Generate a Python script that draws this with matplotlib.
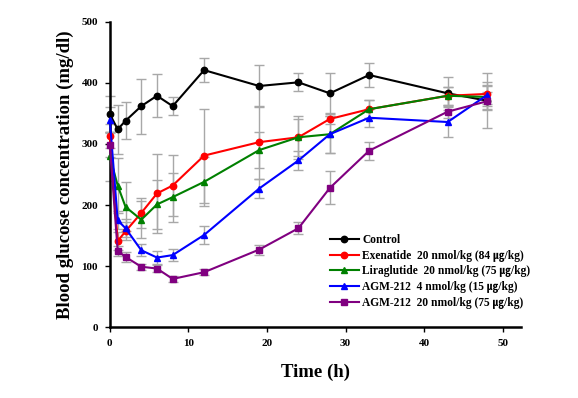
import matplotlib
matplotlib.use("Agg")
import matplotlib.pyplot as plt

plt.rcParams['font.family'] = ['Liberation Serif', 'Noto Sans CJK KR', 'DejaVu Sans']
plt.rcParams['font.weight'] = 'bold'

time_h = [0, 1, 2, 4, 6, 8, 12, 19, 24, 28, 33, 43, 48]
labels = ["Control",
          "Exenatide  20 nmol/kg (84 ㎍/kg)",
          "Liraglutide  20 nmol/kg (75 ㎍/kg)",
          "AGM-212  4 nmol/kg (15 ㎍/kg)",
          "AGM-212  20 nmol/kg (75 ㎍/kg)"]

control = [349, 324, 338, 362, 379, 362, 421, 395, 401, 383, 413, 383, 371]
exenatide = [313, 141, 157, 187, 219, 232, 281, 303, 311, 341, 357, 379, 382]
liraglutide = [280, 232, 197, 176, 201, 213, 238, 290, 311, 316, 357, 379, 377]
agm_4 = [340, 175, 162, 126, 114, 118, 151, 227, 273, 316, 343, 336, 380]
agm_20 = [298, 125, 115, 99, 96, 79, 90, 127, 162, 228, 289, 353, 370]

control_err = [30, 40, 30, 45, 35, 15, 20, 35, 15, 33, 20, 27, 45]
exenatide_err = [20, 15, 15, 25, 64, 50, 77, 60, 35, 8, 15, 15, 20]
liraglutide_err = [40, 45, 40, 30, 40, 40, 40, 30, 30, 30, 15, 15, 20]
agm_4_err = [20, 15, 15, 10, 10, 10, 15, 15, 15, 30, 15, 25, 15]
agm_20_err = [20, 8, 8, 5, 5, 5, 5, 8, 10, 27, 15, 10, 15]

series = [control, exenatide, liraglutide, agm_4, agm_20]
errs = [control_err, exenatide_err, liraglutide_err, agm_4_err, agm_20_err]
colors = ["#000000", "#ff0000", "#008000", "#0000ff", "#800080"]
markers = ["o", "o", "^", "^", "s"]

fig = plt.figure(figsize=(5.78, 3.98), dpi=100)
ax = fig.add_axes([0.190, 0.178, 0.711, 0.767])

for y, e in zip(series, errs):
    ax.errorbar(time_h, y, yerr=e, fmt='none', ecolor='#a8a8a8', elinewidth=1.0,
                capsize=3.5, capthick=1.0, clip_on=False, zorder=1)

for y, c, m, lab in zip(series, colors, markers, labels):
    ax.plot(time_h, y, color=c, marker=m, markersize=4.6, linewidth=1.5,
            label=lab, clip_on=False, zorder=3)

ax.set_xlim(0, 52.3)
ax.set_ylim(0, 500)
ax.set_xticks([0, 10, 20, 30, 40, 50])
ax.set_yticks([0, 100, 200, 300, 400, 500])
ax.spines['top'].set_visible(False)
ax.spines['right'].set_visible(False)
ax.spines['left'].set_linewidth(1.8)
ax.spines['bottom'].set_linewidth(1.8)
ax.tick_params(axis='both', direction='out', length=3.5, width=1.0, labelsize=8, pad=5)
for t in ax.get_xticklabels() + ax.get_yticklabels():
    t.set_fontweight('bold')

ax.set_xlabel("Time (h)", fontsize=13.5, fontweight='bold', labelpad=11)
ax.set_ylabel("Blood glucose concentration (mg/dl)", fontsize=13.5, fontweight='bold', labelpad=5)

leg = fig.legend(loc='upper left', bbox_to_anchor=(330 / 578, 1 - 234 / 398),
                 bbox_transform=fig.transFigure, frameon=False,
                 prop={'size': 8.3, 'weight': 'bold'}, handlelength=2.5,
                 labelspacing=0.32, handletextpad=0.3, borderaxespad=0, borderpad=0)

fig.savefig("out.png", dpi=100)
